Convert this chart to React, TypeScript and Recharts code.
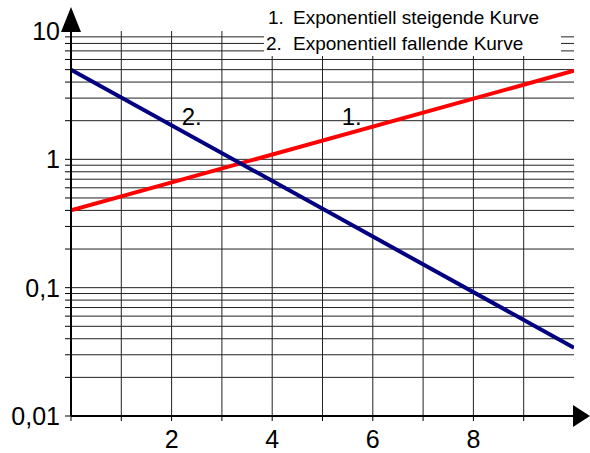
import React from 'react';
import { LineChart, Line, XAxis, YAxis, CartesianGrid, ReferenceDot } from 'recharts';

// values (straight lines on a log scale)
const xValues = [0, 10];
const risingValues = [0.4, 4.9];
const fallingValues = [5, 0.034];

const xTicks = [0, 1, 2, 3, 4, 5, 6, 7, 8, 9];
const xLabelTicks = [2, 4, 6, 8];
const verticalGrid = [1, 2, 3, 4, 5, 6, 7, 8, 9];

const decadeTicks = [0.01, 0.1, 1, 10];
const decadeLabels = ['0,01', '0,1', '1', '10'];
const horizontalGrid = [
  0.02, 0.03, 0.04, 0.05, 0.06, 0.07, 0.08, 0.09,
  0.1, 0.2, 0.3, 0.4, 0.5, 0.6, 0.7, 0.8, 0.9,
  1, 2, 3, 4, 5, 6, 7, 8, 9,
];
const yTicks = [0.01, ...horizontalGrid, 10];

const legendItems = ['Exponentiell steigende Kurve', 'Exponentiell fallende Kurve'];
const curveTags = [
  { x: 2.4, y: 2.14, text: '2.' },
  { x: 5.58, y: 2.14, text: '1.' },
];

const data = xValues.map((x, i) => ({ x, rising: risingValues[i], falling: fallingValues[i] }));

const FONT = '"Liberation Sans", Arial, sans-serif';

const formatY = (v: number) => {
  const i = decadeTicks.findIndex((d) => Math.abs(d - v) < v * 1e-6);
  return i >= 0 ? decadeLabels[i] : '';
};

const UpArrow = (props: any) => {
  const { cx, cy } = props;
  return <polygon points={`${cx - 10},${cy + 1} ${cx},${cy - 24} ${cx + 10},${cy + 1}`} fill="#000" />;
};

const RightArrow = (props: any) => {
  const { cx, cy } = props;
  return <polygon points={`${cx - 1},${cy - 11} ${cx + 16},${cy} ${cx - 1},${cy + 11}`} fill="#000" />;
};

const tagShape = (text: string) => (props: any) => (
  <text x={props.cx} y={props.cy} textAnchor="middle" dominantBaseline="central" fontSize={24} fontFamily={FONT} fill="#000">
    {text}
  </text>
);

export default function App() {
  return (
    <div style={{ position: 'absolute', left: 0, top: 0, width: 590, height: 453, background: '#fff' }}>
      <LineChart width={590} height={453} data={data} margin={{ top: 31, right: 16, bottom: 0, left: 0 }}>
        <CartesianGrid
          stroke="#222"
          strokeWidth={1}
          horizontalValues={horizontalGrid}
          verticalValues={verticalGrid}
        />
        <XAxis
          dataKey="x"
          type="number"
          domain={[0, 10]}
          ticks={xTicks}
          allowDataOverflow
          height={37}
          tickSize={5}
          tickMargin={9}
          tickFormatter={(v: number) => (xLabelTicks.includes(v) ? String(v) : '')}
          axisLine={{ stroke: '#000', strokeWidth: 2 }}
          tickLine={{ stroke: '#000' }}
          tick={{ fill: '#000', fontSize: 25, fontFamily: FONT }}
        />
        <YAxis
          type="number"
          scale="log"
          domain={[0.01, 10]}
          ticks={yTicks}
          allowDataOverflow
          interval={0}
          width={71}
          tickSize={6}
          tickMargin={5}
          tickFormatter={formatY}
          axisLine={{ stroke: '#000', strokeWidth: 2 }}
          tickLine={{ stroke: '#000' }}
          tick={{ fill: '#000', fontSize: 25, fontFamily: FONT }}
        />
        <Line dataKey="rising" type="linear" stroke="#ff0000" strokeWidth={4} dot={false} isAnimationActive={false} />
        <Line dataKey="falling" type="linear" stroke="#000080" strokeWidth={4} dot={false} isAnimationActive={false} />
        {curveTags.map((t) => (
          <ReferenceDot key={t.text} x={t.x} y={t.y} r={0} ifOverflow="visible" shape={tagShape(t.text)} />
        ))}
        <ReferenceDot x={0} y={10} r={0} ifOverflow="visible" shape={UpArrow} />
        <ReferenceDot x={10} y={0.01} r={0} ifOverflow="visible" shape={RightArrow} />
      </LineChart>
      {legendItems.map((label, i) => (
        <div
          key={label}
          style={{
            position: 'absolute',
            left: 264,
            top: 5 + i * 26,
            width: 297,
            height: 25,
            background: '#fff',
            fontFamily: FONT,
            fontSize: 19,
            lineHeight: '25px',
            color: '#000',
            whiteSpace: 'nowrap',
          }}
        >
          <span style={{ position: 'absolute', left: i === 0 ? 4 : 2 }}>{i + 1}.</span>
          <span style={{ position: 'absolute', left: 29 }}>{label}</span>
        </div>
      ))}
    </div>
  );
}
